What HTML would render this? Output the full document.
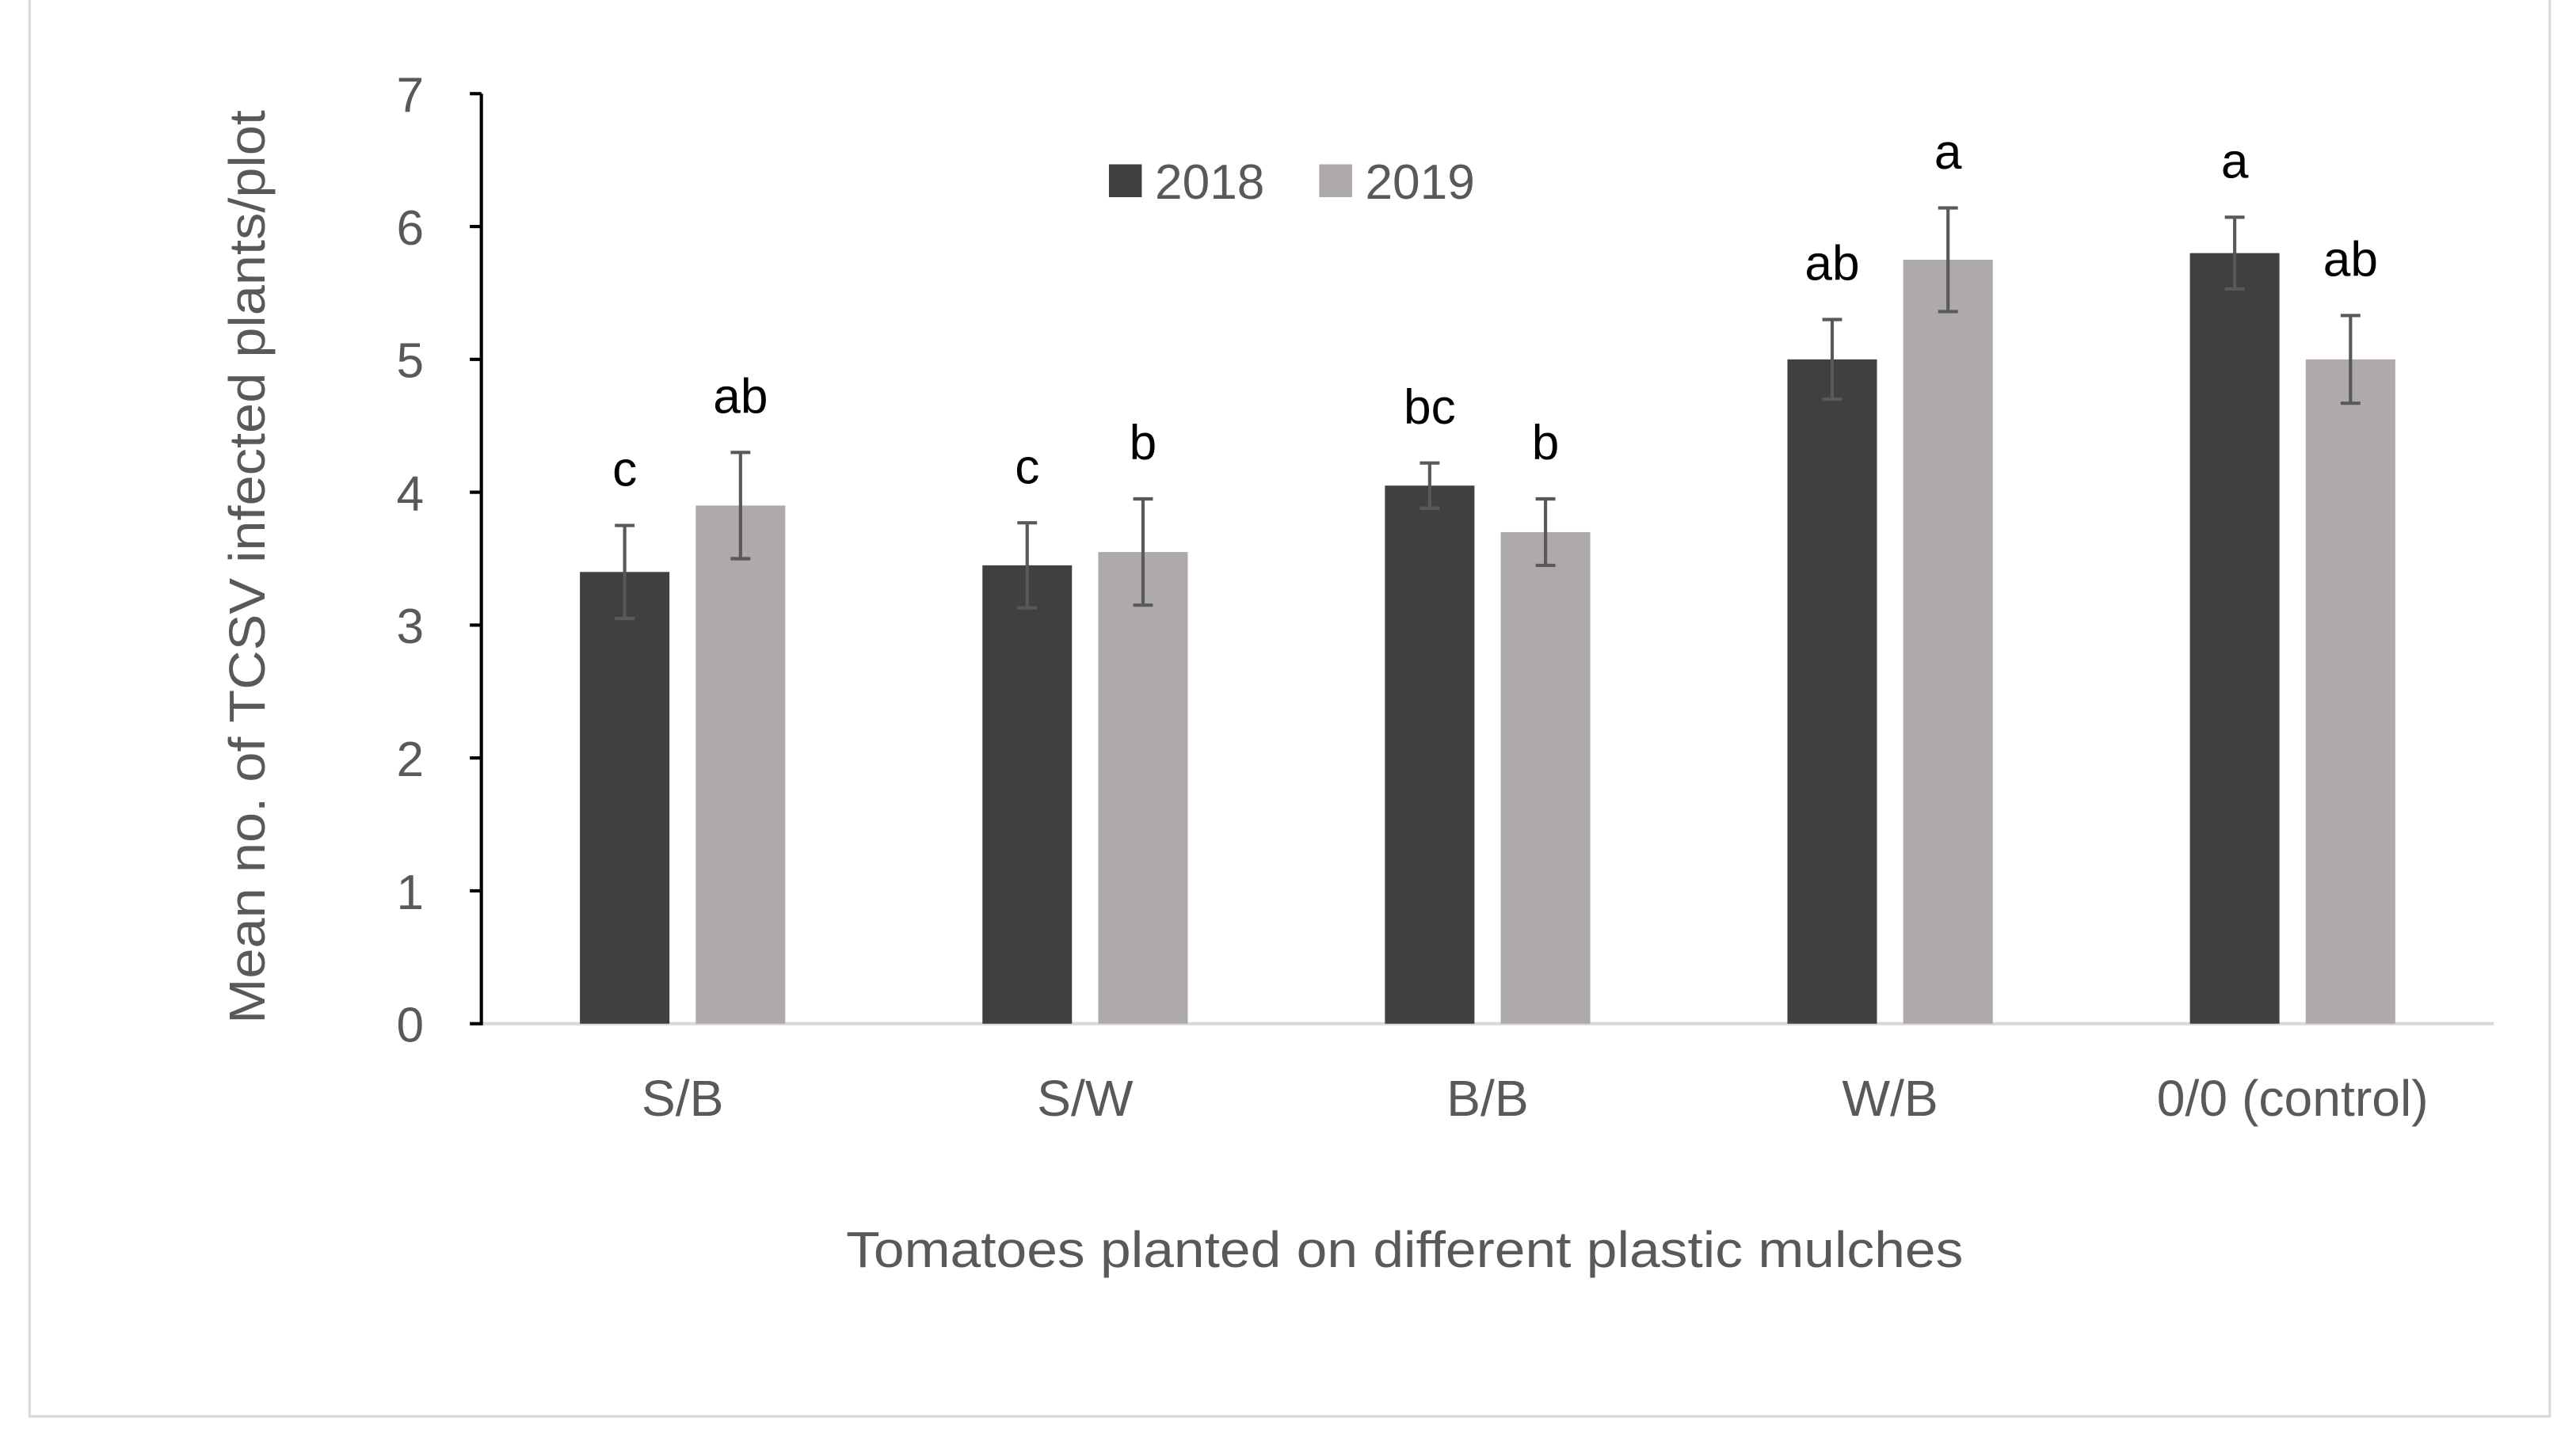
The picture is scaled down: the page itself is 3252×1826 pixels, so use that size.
<!DOCTYPE html>
<html><head><meta charset="utf-8"><style>
html,body{margin:0;padding:0;background:#fff;}
svg{display:block;}
text{font-family:"Liberation Sans",sans-serif;}
</style></head><body>
<svg id="chart" width="3252" height="1826" viewBox="0 0 1568 880" preserveAspectRatio="none" xmlns="http://www.w3.org/2000/svg">
<rect x="18" y="-2" width="1534" height="864" fill="#fff" stroke="#d9d9d9" stroke-width="1.5"/>
<g id="plot"></g>
<g>
<rect x="675" y="100" width="20" height="20" fill="#404040"/>
<text x="703" y="121" font-size="30" fill="#595959">2018</text>
<rect x="803" y="100" width="20" height="20" fill="#aeaaaa"/>
<text x="831" y="121" font-size="30" fill="#595959">2019</text>
</g>
<text x="515" y="771" font-size="31" fill="#595959" textLength="680" lengthAdjust="spacingAndGlyphs">Tomatoes planted on different plastic mulches</text>
<text transform="translate(161,623) rotate(-90)" font-size="31" fill="#595959" textLength="556" lengthAdjust="spacingAndGlyphs">Mean no. of TCSV infected plants/plot</text>
</svg>
<script>
const categories = ["S/B","S/W","B/B","W/B","0/0 (control)"];
const values2018 = [3.4,3.45,4.05,5.0,5.8];
const values2019 = [3.9,3.55,3.7,5.75,5.0];
const err2018 = [0.35,0.32,0.17,0.3,0.27];
const err2019 = [0.4,0.4,0.25,0.39,0.33];
const letters2018 = ["c","c","bc","ab","a"];
const letters2019 = ["ab","b","b","a","ab"];
const yTicks = [0,1,2,3,4,5,6,7];

const NS="http://www.w3.org/2000/svg";
const g=document.getElementById('plot');
const x0=293,x1=1518,y0=623,y7=57;
const y=v=>y0-(v/7)*(y0-y7);
const band=(x1-x0)/categories.length;
const bw=54.5,gap=16;
function mk(t,a){const e=document.createElementNS(NS,t);for(const k in a)e.setAttribute(k,a[k]);g.appendChild(e);return e;}

let xa=mk('line',{x1:x0,x2:x1,y1:y0,y2:y0,stroke:'#d9d9d9','stroke-width':2});


let ya=mk('line',{x1:x0,x2:x0,y1:y7,y2:y0+1,stroke:'#000','stroke-width':2});


yTicks.forEach(t=>{
  let tk=mk('line',{x1:x0-7,x2:x0,y1:y(t),y2:y(t),stroke:'#000','stroke-width':2});
  
  
  let tl=mk('text',{x:x0-35,y:y(t)+11,'font-size':30,fill:'#595959','text-anchor':'end'});
  tl.textContent=t;
  
  
});
categories.forEach((c,i)=>{
  const cx=x0+band*(i+0.5);
  const series=[[values2018[i],err2018[i],letters2018[i],'#404040',cx-gap/2-bw],[values2019[i],err2019[i],letters2019[i],'#aeaaaa',cx+gap/2]];
  series.forEach((s,j)=>{
    const [v,e,l,col,bx]=s;
    let r=mk('rect',{x:bx,y:y(v),width:bw,height:y0-y(v),fill:col});
    
    
    const mx=bx+bw/2;
    let eb=mk('path',{d:`M${mx} ${y(v+e)}V${y(v-e)}M${mx-6} ${y(v+e)}H${mx+6}M${mx-6} ${y(v-e)}H${mx+6}`,stroke:'#595959','stroke-width':2,fill:'none'});
    
    
    let lt=mk('text',{x:mx,y:y(v+e)-24,'font-size':30,fill:'#000','text-anchor':'middle'});
    lt.textContent=l;
    
    
  });
  let cl=mk('text',{x:cx,y:679,'font-size':31,fill:'#595959','text-anchor':'middle'});
  cl.textContent=c;
  
  
});
</script>
</body></html>
